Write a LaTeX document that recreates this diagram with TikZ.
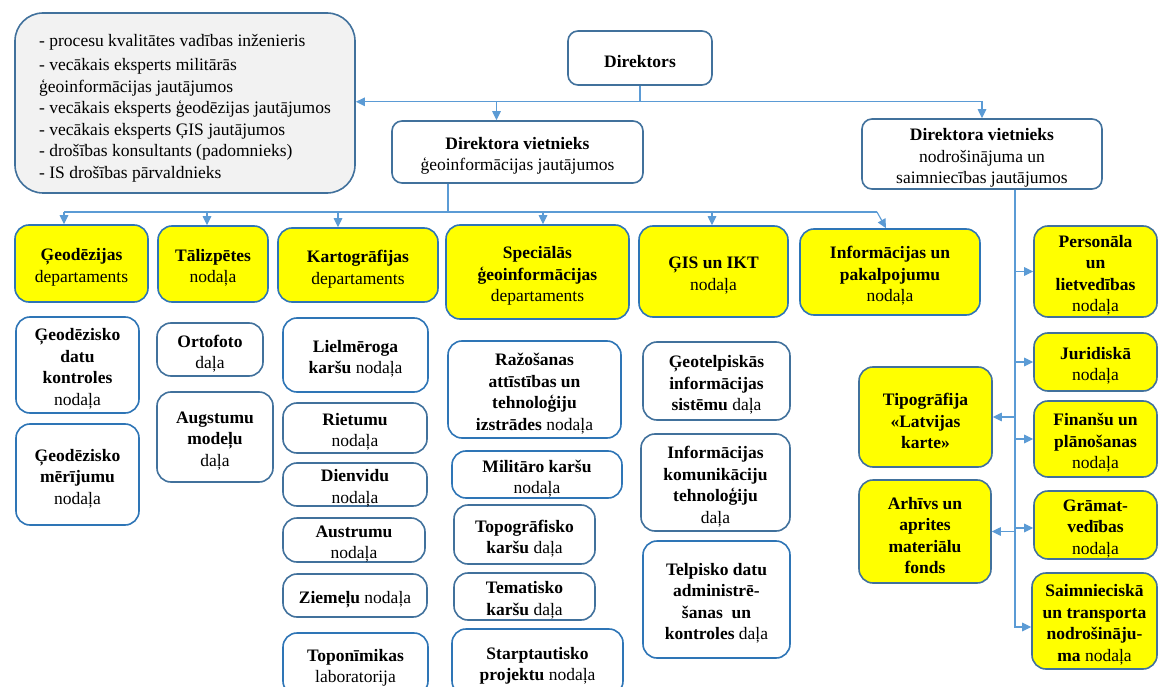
\documentclass[tikz,border=0pt]{standalone}
\usepackage{fontspec}
\setmainfont{Liberation Serif}
\usetikzlibrary{arrows.meta}
\definecolor{conn}{HTML}{5B9BD5}
\definecolor{bdA}{HTML}{2E75B6}
\definecolor{bdB}{HTML}{41719C}
\definecolor{yel}{HTML}{FFFF00}
\definecolor{grayf}{HTML}{F2F2F2}
\newcommand\bx[7]{%
  \pgfmathsetmacro\bxw{#4-#2}\pgfmathsetmacro\bxh{#5-#3}%
  \node[#6, minimum width=\bxw pt, minimum height=\bxh pt]
    (#1) at ({(#2+#4)/2},{(#3+#5)/2})
    {\raisebox{-4pt}[\height][\depth]{\parbox{\bxw pt}{\centering #7}}};}
\begin{document}
\begin{tikzpicture}[x=1pt,y=-1pt,
  obox/.style={draw, line width=1.6pt, rounded corners=14pt, inner sep=0pt,
    font=\fontsize{17.5}{21.5}\selectfont},
  wA/.style={obox, draw=bdA, fill=white},
  wB/.style={obox, draw=bdB, fill=white},
  yA/.style={obox, draw=bdA, fill=yel},
  yB/.style={obox, draw=bdB, fill=yel},
  cn/.style={draw=conn, line width=1.1pt},
  ar/.style={cn, -{Triangle[width=8.5pt,length=9pt]}}]
\useasboundingbox (0,0) rectangle (1159,687);
\fill[white] (0,0) rectangle (1159,687);

% top level
\node[obox, draw=bdB, fill=grayf, rounded corners=28pt, minimum width=340pt, minimum height=180pt]
  (left) at (185,103) {\raisebox{-5pt}[\height][\depth]{\begin{tabular}{@{}l@{}}
  - procesu kvalitātes vadības inženieris\\[2.5pt]
  - vecākais eksperts militārās\\
  ģeoinformācijas jautājumos\\
  - vecākais eksperts ģeodēzijas jautājumos\\
  - vecākais eksperts ĢIS jautājumos\\
  - drošības konsultants (padomnieks)\\
  - IS drošības pārvaldnieks\end{tabular}}};
\bx{dir}{568}{31}{712}{85}{wB,rounded corners=10pt}{\textbf{Direktors}}
\bx{vg}{392}{121}{643}{183}{wB,rounded corners=10pt}{\textbf{Direktora vietnieks}\\ģeoinformācijas jautājumos}
\bx{vn}{862}{119}{1102}{189}{wB,rounded corners=10pt}{\textbf{Direktora vietnieks}\\nodrošinājuma un\\saimniecības jautājumos}

% departments
\bx{geo}{15}{225}{148}{302}{yA}{\textbf{Ģeodēzijas}\\departaments}
\bx{tal}{158}{226}{268}{302}{yA}{\textbf{Tālizpētes}\\nodaļa}
\bx{kart}{278}{228}{438}{302}{yA}{\textbf{Kartogrāfijas}\\departaments}
\bx{spec}{446}{225}{629}{319}{yA}{\textbf{Speciālās}\\\textbf{ģeoinformācijas}\\departaments}
\bx{gis}{639}{226}{788}{317}{yA}{\textbf{ĢIS un IKT}\\nodaļa}
\bx{info}{800}{229}{980}{315}{yA}{\textbf{Informācijas un}\\\textbf{pakalpojumu}\\nodaļa}

% right column
\bx{pers}{1034}{226}{1157}{317}{yB}{\textbf{Personāla}\\\textbf{un}\\\textbf{lietvedības}\\nodaļa}
\bx{jur}{1034}{333}{1157}{391}{yB}{\textbf{Juridiskā}\\nodaļa}
\bx{fin}{1034}{401}{1157}{477}{yB}{\textbf{Finanšu un}\\\textbf{plānošanas}\\nodaļa}
\bx{gram}{1034}{491}{1157}{559}{yB}{\textbf{Grāmat-}\\\textbf{vedības}\\nodaļa}
\bx{saim}{1032}{573}{1157}{669}{yB}{\textbf{Saimnieciskā}\\\textbf{un transporta}\\\textbf{nodrošināju-}\\\textbf{ma} nodaļa}
\bx{tipo}{859}{367}{992}{467}{yB}{\textbf{Tipogrāfija}\\\textbf{«Latvijas}\\\textbf{karte»}}
\bx{arh}{859}{480}{991}{583}{yB}{\textbf{Arhīvs un}\\\textbf{aprites}\\\textbf{materiālu}\\\textbf{fonds}}

% column 1
\bx{gdk}{16}{317}{139}{413}{wA}{\textbf{Ģeodēzisko}\\\textbf{datu}\\\textbf{kontroles}\\nodaļa}
\bx{gm}{16}{424}{139}{525}{wA}{\textbf{Ģeodēzisko}\\\textbf{mērījumu}\\nodaļa}
% column 2
\bx{orto}{157}{323}{263}{376}{wB}{\textbf{Ortofoto}\\daļa}
\bx{augst}{157}{392}{273}{482}{wB}{\textbf{Augstumu}\\\textbf{modeļu}\\daļa}
% column 3
\bx{liel}{283}{318}{428}{392}{wA}{\textbf{Lielmēroga}\\\textbf{karšu} nodaļa}
\bx{riet}{283}{403}{427}{453}{wB}{\textbf{Rietumu}\\nodaļa}
\bx{dienv}{283}{463}{427}{506}{wB}{\textbf{Dienvidu}\\nodaļa}
\bx{austr}{283}{518}{425}{562}{wB}{\textbf{Austrumu}\\nodaļa}
\bx{ziem}{283}{574}{427}{617}{wB}{\textbf{Ziemeļu} nodaļa}
\bx{topo}{283}{633}{428}{695}{wA}{\textbf{Toponīmikas}\\laboratorija}
% column 4
\bx{raz}{448}{341}{621}{438}{wA}{\textbf{Ražošanas}\\\textbf{attīstības un}\\\textbf{tehnoloģiju}\\\textbf{izstrādes} nodaļa}
\bx{mil}{452}{451}{622}{498}{wA}{\textbf{Militāro karšu}\\nodaļa}
\bx{topk}{454}{505}{595}{564}{wB}{\textbf{Topogrāfisko}\\\textbf{karšu} daļa}
\bx{tem}{454}{573}{595}{620}{wB}{\textbf{Tematisko}\\\textbf{karšu} daļa}
\bx{starp}{452}{629}{623}{695}{wA}{\textbf{Starptautisko}\\\textbf{projektu} nodaļa}
% column 5
\bx{geot}{643}{342}{790}{420}{wB}{\textbf{Ģeotelpiskās}\\\textbf{informācijas}\\\textbf{sistēmu} daļa}
\bx{ikt}{641}{434}{790}{531}{wB}{\textbf{Informācijas}\\\textbf{komunikāciju}\\\textbf{tehnoloģiju}\\daļa}
\bx{telp}{643}{541}{790}{658}{wA}{\textbf{Telpisko datu}\\\textbf{administrē-}\\\textbf{šanas\ \ un}\\\textbf{kontroles} daļa}

% connectors: director
\coordinate (dj) at ([yshift=-16pt]dir.south);
\draw[cn] (dir.south) -- (dj);
\draw[ar] (dj) -- (dj -| left.east);
\draw[ar] (dj) -| (vn.north);
\draw[ar] (dj) -| ([xshift=-21pt]vg.north);

% bus under vg
\coordinate (vgb) at ([xshift=-69.5pt]vg.south);
\coordinate (busL) at ([xshift=-17.5pt]geo.north |- 0,212);
\coordinate (busR) at ([xshift=-13pt]info.north |- 0,212);
\draw[cn] (vgb) -- (vgb |- busL);
\draw[cn] (busL) -- (busR);
\draw[ar] (busL) -- ([xshift=-17.5pt]geo.north);
\draw[ar] ([xshift=-6pt]tal.north |- busL) -- ([xshift=-6pt]tal.north);
\draw[ar] ([xshift=-20pt]kart.north |- busL) -- ([xshift=-20pt]kart.north);
\draw[ar] ([xshift=5.5pt]spec.north |- busL) -- ([xshift=5.5pt]spec.north);
\draw[ar] ([xshift=-1.5pt]gis.north |- busL) -- ([xshift=-1.5pt]gis.north);
\draw[ar] (busR) -- ([xshift=-4pt]info.north);

% right vertical bus
\coordinate (vb) at ([xshift=33pt]vn.south);
\draw[ar] (vb) |- ([yshift=-6pt]saim.west);
\draw[ar] (vb |- pers.west) -- (pers.west);
\draw[ar] (vb |- jur.west) -- (jur.west);
\draw[ar] (vb |- fin.west) -- (fin.west);
\draw[ar] ([yshift=-3pt]vb |- gram.west) -- ([yshift=-3pt]gram.west);
\draw[ar] (vb |- tipo.east) -- (tipo.east);
\draw[ar] (vb |- arh.east) -- (arh.east);
\end{tikzpicture}
\end{document}
